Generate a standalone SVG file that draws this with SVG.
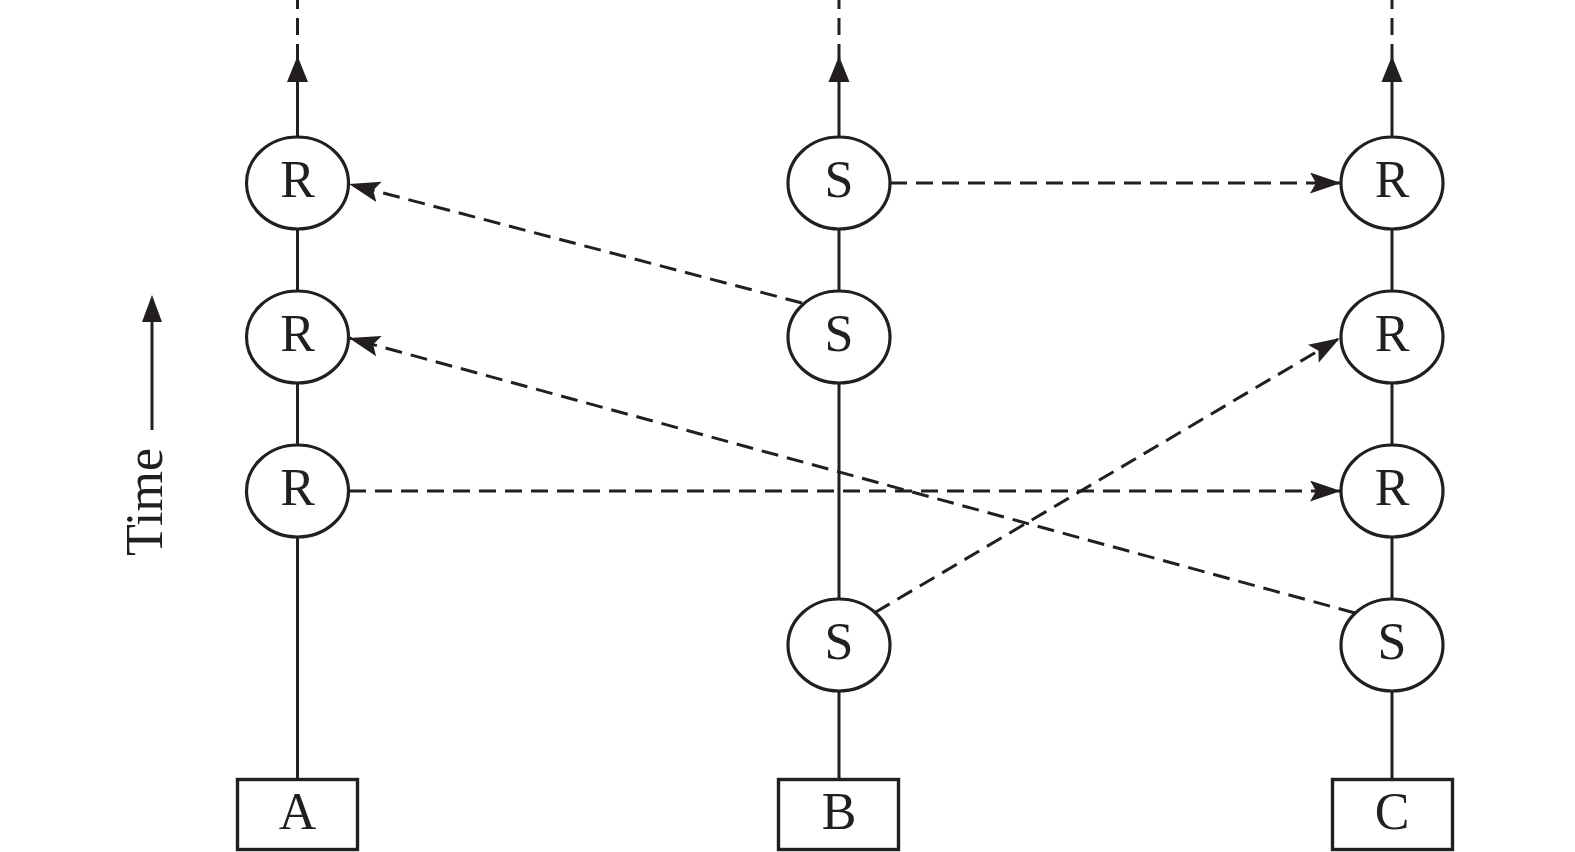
<svg xmlns="http://www.w3.org/2000/svg" width="1575" height="852" viewBox="0 0 1575 852">
<style>
.ln{stroke:#231f20;stroke-width:3;fill:none}
.dl{stroke:#231f20;stroke-width:3;fill:none;stroke-dasharray:17 9}
.nd{stroke:#231f20;stroke-width:3.2;fill:#fff}
.bx{stroke:#231f20;stroke-width:3.4;fill:#fff}
.t{font-family:"Liberation Serif",serif;font-size:52px;fill:#231f20;text-anchor:middle}
.ah{fill:#231f20}
</style>
<defs>
<marker id="arr" markerUnits="userSpaceOnUse" markerWidth="34" markerHeight="24" refX="31" refY="10.5" orient="auto">
<path d="M0,0 L31,10.5 L0,21 L6,10.5 z" fill="#231f20"/>
</marker>
</defs>
<rect width="1575" height="852" fill="#fff"/>
<g id="timelines">
<line class="dl" x1="297.5" y1="0" x2="297.5" y2="60" stroke-dashoffset="8"/>
<line class="ln" x1="297.5" y1="80" x2="297.5" y2="779"/>
<path class="ah" d="M297.5,56 L308,82 L287,82 z"/>
<line class="dl" x1="839" y1="0" x2="839" y2="60" stroke-dashoffset="8"/>
<line class="ln" x1="839" y1="80" x2="839" y2="779"/>
<path class="ah" d="M839,56 L849.5,82 L828.5,82 z"/>
<line class="dl" x1="1392" y1="0" x2="1392" y2="60" stroke-dashoffset="8"/>
<line class="ln" x1="1392" y1="80" x2="1392" y2="779"/>
<path class="ah" d="M1392,56 L1402.5,82 L1381.5,82 z"/>
</g>
<g id="time-axis">
<line class="ln" x1="152" y1="318" x2="152" y2="430"/>
<path class="ah" d="M152,295 L162,322 L142,322 z"/>
<text class="t" transform="translate(162,502) rotate(-90)">Time</text>
</g>
<g id="A-R1"><ellipse class="nd" cx="297.5" cy="183" rx="51" ry="46"/><text class="t" x="297.5" y="197">R</text></g>
<g id="A-R2"><ellipse class="nd" cx="297.5" cy="337" rx="51" ry="46"/><text class="t" x="297.5" y="351">R</text></g>
<g id="A-R3"><ellipse class="nd" cx="297.5" cy="491" rx="51" ry="46"/><text class="t" x="297.5" y="505">R</text></g>
<g id="B-S1"><ellipse class="nd" cx="839" cy="183" rx="51" ry="46"/><text class="t" x="839" y="197">S</text></g>
<g id="B-S2"><ellipse class="nd" cx="839" cy="337" rx="51" ry="46"/><text class="t" x="839" y="351">S</text></g>
<g id="B-S4"><ellipse class="nd" cx="839" cy="645" rx="51" ry="46"/><text class="t" x="839" y="659">S</text></g>
<g id="C-R1"><ellipse class="nd" cx="1392" cy="183" rx="51" ry="46"/><text class="t" x="1392" y="197">R</text></g>
<g id="C-R2"><ellipse class="nd" cx="1392" cy="337" rx="51" ry="46"/><text class="t" x="1392" y="351">R</text></g>
<g id="C-R3"><ellipse class="nd" cx="1392" cy="491" rx="51" ry="46"/><text class="t" x="1392" y="505">R</text></g>
<g id="C-S4"><ellipse class="nd" cx="1392" cy="645" rx="51" ry="46"/><text class="t" x="1392" y="659">S</text></g>
<g id="box-A"><rect class="bx" x="237.5" y="779.5" width="120" height="70"/><text class="t" x="297.5" y="829">A</text></g>
<g id="box-B"><rect class="bx" x="778.5" y="779.5" width="120" height="70"/><text class="t" x="839" y="829">B</text></g>
<g id="box-C"><rect class="bx" x="1332.5" y="779.5" width="120" height="70"/><text class="t" x="1392" y="829">C</text></g>
<g id="connectors">
<line class="dl" x1="802" y1="303" x2="349" y2="184" marker-end="url(#arr)"/>
<line class="dl" x1="890" y1="183" x2="1341" y2="183" marker-end="url(#arr)"/>
<line class="dl" x1="349" y1="491" x2="1341" y2="491" marker-end="url(#arr)"/>
<line class="dl" x1="1355" y1="613" x2="349" y2="338" marker-end="url(#arr)"/>
<line class="dl" x1="875" y1="612.5" x2="1340" y2="338" marker-end="url(#arr)"/>
</g>
</svg>
